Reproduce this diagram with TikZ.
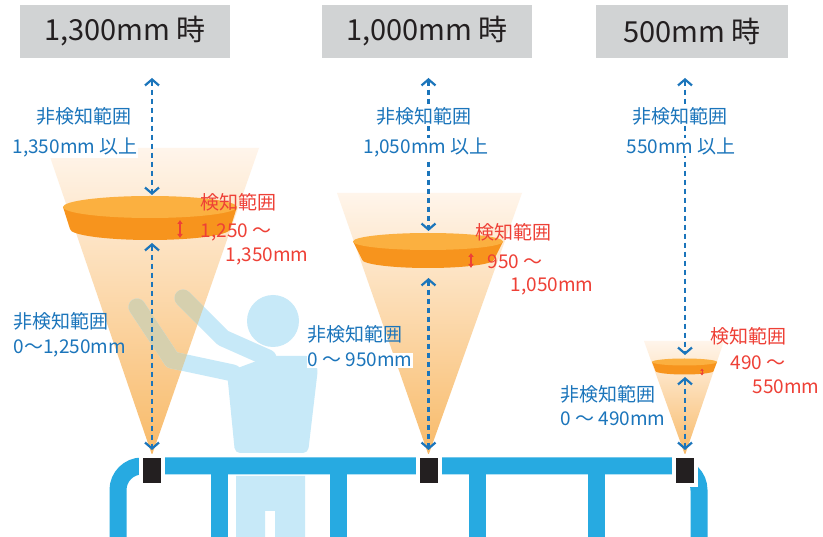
\documentclass[tikz,border=0pt]{standalone}
\usepackage{fontspec}
\setmainfont{Noto Sans CJK JP}
\usetikzlibrary{arrows.meta, positioning}

\definecolor{railblue}{HTML}{27AAE1}
\definecolor{personblue}{HTML}{C7E9F8}
\definecolor{armgrey}{HTML}{D6D0AE}
\definecolor{textblue}{HTML}{1B75BB}
\definecolor{textred}{HTML}{EE4036}
\definecolor{headgrey}{HTML}{D1D3D4}
\definecolor{ink}{HTML}{231F20}
\definecolor{conetop}{HTML}{FFF5EB}
\definecolor{conebot}{HTML}{F8BA68}
\definecolor{disktop}{HTML}{FBB040}
\definecolor{diskside}{HTML}{F7941D}

% cx, top y, top rx, bottom rx, ry, thickness
\newcommand\disk[6]{%
  \fill[diskside] (#1-#3,#2) -- (#1-#4,#2+#6) -- (#1+#4,#2+#6) -- (#1+#3,#2) -- cycle;
  \fill[diskside] (#1,#2+#6) ellipse [x radius=#4pt, y radius=#5pt];
  \fill[disktop] (#1,#2) ellipse [x radius=#3pt, y radius=#5pt];
}

\begin{document}
\begin{tikzpicture}[x=1pt, y=-1pt,
    headbox/.style={fill=headgrey, text=ink, minimum height=53pt, inner sep=0pt,
      font=\fontsize{29}{32}\selectfont},
    bluelbl/.style={text=textblue, inner sep=0.5pt, font=\fontsize{19}{22}\selectfont},
    redlbl/.style={text=textred, inner sep=0.5pt, anchor=base west, font=\fontsize{19}{22}\selectfont},
    sensor/.style={fill=ink, draw=white, line width=4pt, minimum width=22pt, minimum height=29pt, inner sep=0pt},
    rail/.style={railblue, line width=17pt},
    arm/.style={personblue, line width=17pt, line cap=round, line join=round},
    dimarrow/.style={textblue, line width=2.2pt, dash pattern=on 5pt off 4pt, <->,
      >={Straight Barb[length=6pt,width=14pt]}},
    gaparrow/.style={textred, line width=1.6pt, <->, >={Latex[length=4pt,width=6pt]}}]
  \useasboundingbox (0,0) rectangle (823,537);
  \fill[white] (0,0) rectangle (823,537);

  \node[headbox, minimum width=210pt] (hA) at (125,31.5) {1,300mm 時};
  \node[headbox, minimum width=210pt] (hB) at (427,31.5) {1,000mm 時};
  \node[headbox, minimum width=192pt] (hC) at (692,31.5) {500mm 時};

  \shade[top color=conetop, bottom color=conebot] (47,148) -- (259,148) -- (152,455) -- cycle;
  \shade[top color=conetop, bottom color=conebot] (337,193) -- (522,193) -- (428.5,455) -- cycle;
  \shade[top color=conetop, bottom color=conebot] (644,341) -- (724,341) -- (685,455) -- cycle;

  \fill[personblue] (236,476) -- (305,476) -- (305,545) -- (275,545) -- (275,511)
    -- (265,511) -- (265,545) -- (236,545) -- cycle;
  \fill[personblue, rounded corners=5pt] (227,372) -- (270,356) -- (311,356) -- (318,368)
    -- (308,453) -- (235,453) -- cycle;
  \fill[personblue] (273,321) circle[radius=26pt];
  \draw[arm] (183,298) -- (223,338) -- (268,358);
  \draw[arm] (137,307) -- (172,360) -- (233,373);
  \begin{scope}
    \clip (47,148) -- (259,148) -- (152,455) -- cycle;
    \draw[arm, armgrey] (183,298) -- (223,338) -- (268,358);
    \draw[arm, armgrey] (137,307) -- (172,360) -- (233,373);
  \end{scope}

  \draw[rail, rounded corners=24pt] (118,545) -- (118,466) -- (699,466) -- (699,545);
  \foreach \x in {219,338,477,596}
    \draw[rail] (\x,466) -- (\x,545);

  \node[sensor] (sensA) at (152,471) {};
  \node[sensor] (sensB) at (428.5,471) {};
  \node[sensor] (sensC) at (685,471) {};

  \disk{150}{207}{87}{80}{11}{22}
  \disk{428}{241.5}{75}{66}{8.5}{18}
  \disk{684.5}{362}{32.5}{29}{3.5}{9}

  \coordinate (topA) at (152,78);
  \coordinate (inA) at (152,195);
  \coordinate (outA) at (152,243);
  \coordinate (topB) at (428.5,78);
  \coordinate (inB) at (428.5,231);
  \coordinate (outB) at (428.5,278);
  \coordinate (topC) at (685,78);
  \coordinate (inC) at (685,355);
  \coordinate (outC) at (685,377);

  \draw[dimarrow] (topA) -- (inA);
  \draw[dimarrow, shorten >=4.5pt] (outA) -- (sensA.north);
  \draw[dimarrow] (topB) -- (inB);
  \draw[dimarrow, shorten >=4.5pt] (outB) -- (sensB.north);
  \draw[dimarrow] (topC) -- (inC);
  \draw[dimarrow, shorten >=4.5pt] (outC) -- (sensC.north);

  \draw[gaparrow] (180,220) -- (180,238);
  \draw[gaparrow] (471,253) -- (471,268);
  \draw[gaparrow, line width=1pt, >={Latex[length=2.5pt,width=4pt]}] (702,368.5) -- (702,375.5);

  \node[bluelbl, anchor=base] (nA1) at (84,124) {非検知範囲};
  \node[bluelbl, anchor=base, fill=white] (nA2) at (75,154) {1,350mm 以上};
  \node[bluelbl, anchor=base, fill=white] (nB1) at (424,124) {非検知範囲};
  \node[bluelbl, anchor=base, fill=white] (nB2) at (426,154) {1,050mm 以上};
  \node[bluelbl, anchor=base, fill=white] (nC1) at (680,124) {非検知範囲};
  \node[bluelbl, anchor=base, fill=white] (nC2) at (681,154) {550mm 以上};

  \node[bluelbl, anchor=base west] (mA1) at (13,329) {非検知範囲};
  \node[bluelbl, anchor=base west] (mA2) at (13,354) {0～1,250mm};
  \node[bluelbl, anchor=base west] (mB1) at (307,342) {非検知範囲};
  \node[bluelbl, anchor=base west, fill=white] (mB2) at (307,367) {0 ～ 950mm};
  \node[bluelbl, anchor=base west] (mC1) at (560,402) {非検知範囲};
  \node[bluelbl, anchor=base west] (mC2) at (560,426) {0 ～ 490mm};

  \node[redlbl] (rA1) at (200,210) {検知範囲};
  \node[redlbl] (rA2) at (200,238) {1,250 ～};
  \node[redlbl] (rA3) at (225,262) {1,350mm};
  \node[redlbl] (rB1) at (475,240) {検知範囲};
  \node[redlbl] (rB2) at (487,269) {950 ～};
  \node[redlbl] (rB3) at (510,292) {1,050mm};
  \node[redlbl] (rC1) at (710,344) {検知範囲};
  \node[redlbl] (rC2) at (730,370) {490 ～};
  \node[redlbl] (rC3) at (752,394) {550mm};
\end{tikzpicture}
\end{document}
